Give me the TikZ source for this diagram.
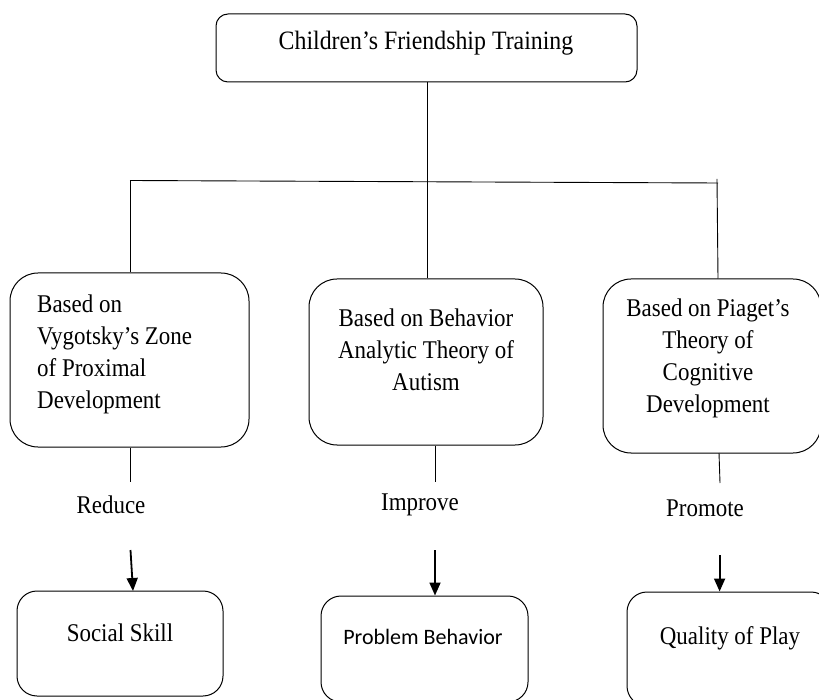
\documentclass[tikz,border=0pt]{standalone}
\usepackage{fontspec}
\setmainfont{Liberation Serif}[FakeStretch=0.9]
\newfontfamily\calibrifont{Carlito}
\usetikzlibrary{arrows.meta}
\begin{document}
\begin{tikzpicture}[x=1pt,y=-1pt,
  rbox/.style={draw, line width=1pt, rounded corners=#1, inner sep=0pt},
  rbox/.default=22pt,
  txt/.style={font=\fontsize{25.5}{32}\selectfont, inner sep=0pt},
  link/.style={line width=0.9pt},
  arr/.style={line width=1.8pt, -{Triangle[length=13pt,width=11pt]}}]
\useasboundingbox (0,0) rectangle (819,700);
\clip (0,0) rectangle (819,700);
% boxes
\node[rbox=12pt, minimum width=421pt, minimum height=68pt] (top) at (426.5,48) {};
\node[rbox=28pt, minimum width=239pt, minimum height=174pt] (left) at (129.5,360) {};
\node[rbox=28pt, minimum width=234pt, minimum height=166pt] (mid) at (426,362) {};
\node[rbox=28pt, minimum width=218pt, minimum height=174pt] (right) at (712,366) {};
\node[rbox=20pt, minimum width=206pt, minimum height=105pt] (ssk) at (120,643.5) {};
\node[rbox=20pt, minimum width=207pt, minimum height=106pt] (pb) at (424.5,649) {};
\node[rbox=20pt, minimum width=204pt, minimum height=114pt] (qp) at (729,649) {};
% texts
\node[txt, font=\fontsize{26.5}{32}\selectfont] (toptxt) at (426,43) {Children’s Friendship Training};
\node[txt, anchor=west, align=left] (lefttxt) at (37,354.5) {Based on\\Vygotsky’s Zone\\of Proximal\\Development};
\node[txt, align=center] (midtxt) at (426,350) {Based on Behavior\\Analytic Theory of\\Autism};
\node[txt, align=center] (righttxt) at (708,358.5) {Based on Piaget’s\\Theory of\\Cognitive\\Development};
\node[txt] (reduce) at (111,505) {Reduce};
\node[txt] (improve) at (420,505) {Improve};
\node[txt] (promote) at (705,508) {Promote};
\node[txt] (ssktxt) at (120,633) {Social Skill};
\node[txt, font=\calibrifont\fontsize{22}{30}\selectfont] (pbtxt) at (423,637) {Problem Behavior};
\node[txt] (qptxt) at (730,638) {Quality of Play};
% tree connectors
\coordinate (hl) at (130,180.5);
\coordinate (hr) at (718,183);
\coordinate (rt) at (717,179);
\draw[link] (top.south -| 427,0) -- (mid.north -| 427,0);
\draw[link] (hl) -- (hr);
\draw[link] (hl) -- (left.north -| hl);
\draw[link] (rt) -- (right.north -| 718,0);
% lower stems
\coordinate (s1) at (130,482);
\coordinate (s2) at (435,482);
\coordinate (s3) at (720,483);
\draw[link] (left.south -| s1) -- (s1);
\draw[link] (mid.south -| s2) -- (s2);
\draw[link] (719,453) -- (s3);
% arrows
\coordinate (a1) at (130.5,550);
\coordinate (a2) at (435,550);
\coordinate (a3) at (719.6,555);
\draw[arr] (a1) -- (133,591);
\draw[arr] (a2) -- (a2 |- pb.north);
\draw[arr] (a3) -- (a3 |- qp.north);
\end{tikzpicture}
\end{document}
